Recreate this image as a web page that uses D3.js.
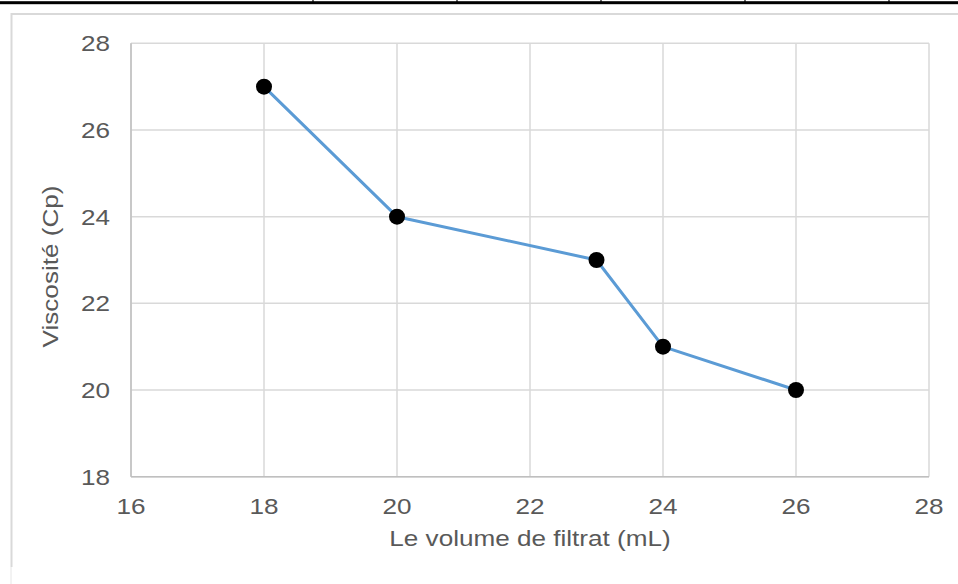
<!DOCTYPE html>
<html><head><meta charset="utf-8">
<script src="https://cdn.jsdelivr.net/npm/d3@7"></script>
<style>body{margin:0;background:#fff}svg{display:block}</style>
</head><body>
<script>
const volumes = [18, 20, 23, 24, 26];
const viscosity = [27, 24, 23, 21, 20];
const xTicks = [16, 18, 20, 22, 24, 26, 28];
const yTicks = [18, 20, 22, 24, 26, 28];
const xTitle = "Le volume de filtrat (mL)";
const yTitle = "Viscosité (Cp)";
const tableSeparators = [313, 457, 601, 745, 889];

const W = 958, H = 584;
const svg = d3.select("body").append("svg").attr("width", W).attr("height", H);

// table border remnants at top
svg.append("rect").attr("x", 0).attr("y", 1.2).attr("width", W).attr("height", 3).attr("fill", "#000");
svg.selectAll("line.sep").data(tableSeparators).join("line")
  .attr("x1", d => d).attr("x2", d => d).attr("y1", 0).attr("y2", 4)
  .attr("stroke", "#000").attr("stroke-width", 1.2);

// chart frame
svg.append("path").attr("d", "M11.5,567 V14 H960").attr("fill", "none")
  .attr("stroke", "#d9d9d9").attr("stroke-width", 2);
svg.append("line").attr("x1", 11).attr("x2", 11).attr("y1", 567).attr("y2", H)
  .attr("stroke", "#e6e6e6").attr("stroke-width", 1);

const m = {left: 131, right: 929, top: 43.3, bottom: 476.7};
const x = d3.scaleLinear().domain([16, 28]).range([m.left, m.right]);
const y = d3.scaleLinear().domain([18, 28]).range([m.bottom, m.top]);

const g = svg.append("g");
// grid
g.selectAll("line.gx").data(xTicks).join("line")
  .attr("x1", d => x(d)).attr("x2", d => x(d)).attr("y1", m.top).attr("y2", m.bottom)
  .attr("stroke", "#d9d9d9").attr("stroke-width", 1.5);
g.selectAll("line.gy").data(yTicks).join("line")
  .attr("x1", m.left).attr("x2", m.right).attr("y1", d => y(d)).attr("y2", d => y(d))
  .attr("stroke", "#d9d9d9").attr("stroke-width", 1.5);
// axis lines
g.append("line").attr("x1", m.left).attr("x2", m.right).attr("y1", m.bottom).attr("y2", m.bottom)
  .attr("stroke", "#bfbfbf").attr("stroke-width", 1.5);
g.append("line").attr("x1", m.left).attr("x2", m.left).attr("y1", m.top).attr("y2", m.bottom)
  .attr("stroke", "#bfbfbf").attr("stroke-width", 1.5);

const FS = 22.5, SX = 1.16;
const font = "'Liberation Sans', Arial, sans-serif";
function stretched(sel, tx, ty, rot) {
  return sel.attr("transform", `translate(${tx},${ty}) rotate(${rot||0}) scale(${SX},1)`);
}
// x tick labels
g.selectAll("text.xt").data(xTicks).join("text")
  .each(function(d){ stretched(d3.select(this), x(d), 513.5); })
  .attr("text-anchor", "middle").attr("font-family", font).attr("font-size", FS)
  .attr("fill", "#595959").text(d => d);
// y tick labels
g.selectAll("text.yt").data(yTicks).join("text")
  .each(function(d){ stretched(d3.select(this), 110, y(d) + 8); })
  .attr("text-anchor", "end").attr("font-family", font).attr("font-size", FS)
  .attr("fill", "#595959").text(d => d);
// titles
stretched(svg.append("text"), (m.left + m.right) / 2, 545.5)
  .attr("text-anchor", "middle").attr("font-family", font).attr("font-size", FS)
  .attr("fill", "#595959").text(xTitle);
stretched(svg.append("text"), 58, 266.5, -90)
  .attr("text-anchor", "middle").attr("font-family", font).attr("font-size", FS)
  .attr("fill", "#595959").text(yTitle);

// series
const pts = volumes.map((v, i) => [v, viscosity[i]]);
g.append("path").datum(pts)
  .attr("d", d3.line().x(d => x(d[0])).y(d => y(d[1])))
  .attr("fill", "none").attr("stroke", "#5b9bd5").attr("stroke-width", 3)
  .attr("stroke-linejoin", "round").attr("stroke-linecap", "round");
g.selectAll("circle").data(pts).join("circle")
  .attr("cx", d => x(d[0])).attr("cy", d => y(d[1])).attr("r", 8)
  .attr("fill", "#000");
</script>
</body></html>
